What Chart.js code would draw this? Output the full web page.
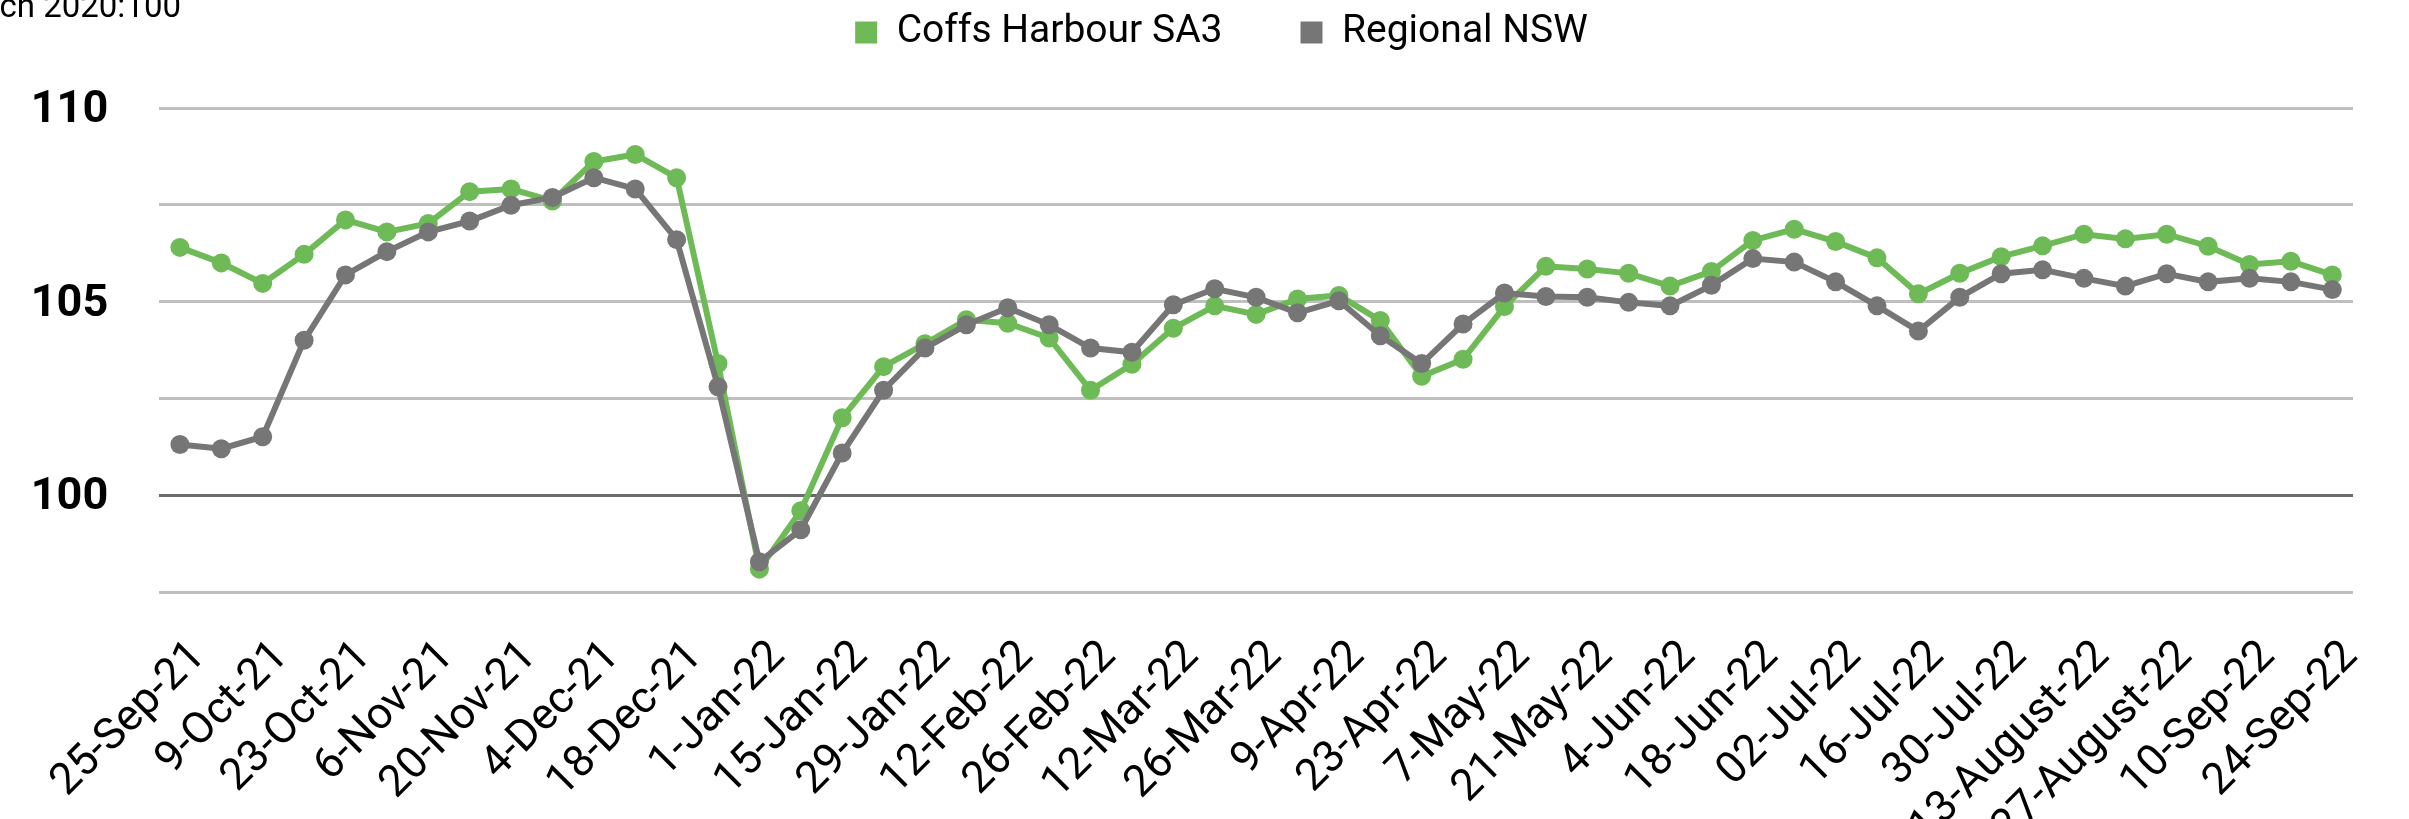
<!DOCTYPE html>
<html>
<head>
<meta charset="utf-8">
<script src="https://cdn.jsdelivr.net/npm/chart.js@4.4.1/dist/chart.umd.min.js"></script>
<style>
  html, body { margin: 0; padding: 0; background: #ffffff; }
  #wrap { width: 2409px; height: 819px; }
  canvas { display: block; }
</style>
</head>
<body>
<div id="wrap"><canvas id="c" width="2409" height="819"></canvas></div>
<script>
// ---- Data ----
const unitLabel = 'Index, March 2020:100';
const seriesNames = ['Coffs Harbour SA3', 'Regional NSW'];
const weeks = [
  '25-Sep-21','2-Oct-21','9-Oct-21','16-Oct-21','23-Oct-21','30-Oct-21','6-Nov-21','13-Nov-21',
  '20-Nov-21','27-Nov-21','4-Dec-21','11-Dec-21','18-Dec-21','25-Dec-21','1-Jan-22','8-Jan-22',
  '15-Jan-22','22-Jan-22','29-Jan-22','5-Feb-22','12-Feb-22','19-Feb-22','26-Feb-22','5-Mar-22',
  '12-Mar-22','19-Mar-22','26-Mar-22','2-Apr-22','9-Apr-22','16-Apr-22','23-Apr-22','30-Apr-22',
  '7-May-22','14-May-22','21-May-22','28-May-22','4-Jun-22','11-Jun-22','18-Jun-22','25-Jun-22',
  '02-Jul-22','09-Jul-22','16-Jul-22','23-Jul-22','30-Jul-22','6-August-22','13-August-22','20-August-22',
  '27-August-22','3-Sep-22','10-Sep-22','17-Sep-22','24-Sep-22'
];
const coffsHarbour = [
  106.4, 106.0, 105.47, 106.22, 107.11, 106.8, 107.02, 107.84, 107.91, 107.6,
  108.62, 108.8, 108.2, 103.4, 98.09, 99.6, 102.0, 103.32, 103.91, 104.53,
  104.44, 104.06, 102.71, 103.38, 104.31, 104.89, 104.67, 105.07, 105.16, 104.51,
  103.07, 103.51, 104.87, 105.91, 105.84, 105.73, 105.4, 105.78, 106.58, 106.87,
  106.55, 106.13, 105.2, 105.73, 106.16, 106.44, 106.74, 106.62, 106.74, 106.43,
  105.96, 106.04, 105.69
];
const regionalNSW = [
  101.31, 101.2, 101.51, 104.0, 105.69, 106.29, 106.8, 107.08, 107.49, 107.69,
  108.2, 107.91, 106.6, 102.8, 98.28, 99.11, 101.09, 102.71, 103.8, 104.4,
  104.84, 104.4, 103.8, 103.69, 104.92, 105.33, 105.11, 104.71, 105.02, 104.12,
  103.4, 104.42, 105.22, 105.13, 105.11, 104.98, 104.89, 105.42, 106.11, 106.02,
  105.51, 104.89, 104.24, 105.11, 105.72, 105.82, 105.6, 105.4, 105.72, 105.51,
  105.6, 105.51, 105.31
];
const yMin = 97.5, yMax = 110, yStep = 2.5, yLabelEvery = 5;

// ---- Styling ----
const FONT = "Roboto, 'Liberation Sans', sans-serif";
const GREEN = '#6dba57';
const GREY = '#767676';

// legend: fixed height so the plot starts where the reference does, and shifted right a little
const legendSpacer = {
  id: 'legendSpacer',
  beforeLayout(chart) {
    const lg = chart.legend;
    if (lg && !lg.__wrapped) {
      const orig = lg.fit;
      lg.fit = function () { orig.call(this); this.height = 173; };
      lg.__wrapped = true;
    }
  },
  afterLayout(chart) {
    const lg = chart.legend;
    if (lg) { lg.left += 39; lg.right += 39; }
  }
};

const unitTitle = {
  id: 'unitTitle',
  afterDraw(chart) {
    const c = chart.ctx;
    c.save();
    c.font = '33px ' + FONT;
    c.fillStyle = '#000';
    c.textAlign = 'right';
    c.textBaseline = 'alphabetic';
    c.fillText(unitLabel, 181, 17);
    c.restore();
  }
};

new Chart(document.getElementById('c'), {
  type: 'line',
  data: {
    labels: weeks,
    datasets: [
      {
        label: seriesNames[1], data: regionalNSW,
        borderColor: GREY, backgroundColor: GREY,
        borderWidth: 6, pointRadius: 9.5, pointHoverRadius: 9.5,
        pointBackgroundColor: GREY, pointBorderWidth: 0, tension: 0
      },
      {
        label: seriesNames[0], data: coffsHarbour,
        borderColor: GREEN, backgroundColor: GREEN,
        borderWidth: 6, pointRadius: 9.5, pointHoverRadius: 9.5,
        pointBackgroundColor: GREEN, pointBorderWidth: 0, tension: 0
      }
    ]
  },
  options: {
    responsive: false,
    animation: false,
    devicePixelRatio: 1,
    layout: { padding: { left: 0, right: 44, top: -65, bottom: 0 } },
    plugins: {
      tooltip: { enabled: false },
      legend: {
        display: true, position: 'top', reverse: true,
        labels: {
          boxWidth: 22, boxHeight: 22, padding: 78, color: '#000',
          font: { family: FONT, size: 39 },
          generateLabels(chart) {
            return Chart.defaults.plugins.legend.labels.generateLabels(chart)
              .map(it => Object.assign(it, { lineWidth: 0 }));
          }
        }
      }
    },
    scales: {
      x: {
        offset: true,
        grid: { display: false, drawTicks: false },
        border: { display: false },
        afterFit(s) { s.height = 227; },
        ticks: {
          autoSkip: false, minRotation: 45, maxRotation: 45,
          padding: 39, labelOffset: 19, color: '#000',
          font: { family: FONT, size: 44 },
          callback: (v, i) => (i % 2 === 0 ? weeks[i] : '')
        }
      },
      y: {
        min: yMin, max: yMax,
        afterFit(s) { s.width = 153; },
        border: { display: false },
        grid: {
          drawTicks: false, lineWidth: 3,
          color: ctx => (ctx.tick && ctx.tick.value === 100 ? '#6b6b6b' : '#bfbfbf')
        },
        ticks: {
          stepSize: yStep, padding: 51, labelOffset: 3, color: '#000',
          font: { family: FONT, size: 45, weight: 'bold' },
          callback: v => (Math.abs(v % yLabelEvery) < 1e-9 ? v : '')
        }
      }
    }
  },
  plugins: [legendSpacer, unitTitle]
});
</script>
</body>
</html>
